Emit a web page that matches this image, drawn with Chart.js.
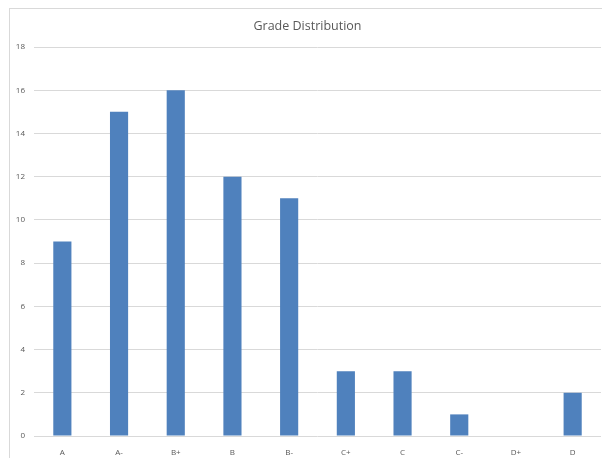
<!DOCTYPE html>
<html>
<head>
<meta charset="utf-8">
<script src="https://cdn.jsdelivr.net/npm/chart.js@4"></script>
<style>
    html, body { margin: 0; padding: 0; background: #fff; overflow: hidden; }
    #wrap { position: relative; width: 602px; height: 458px; }
    #frame { position: absolute; left: 9px; top: 8px; width: 640px; height: 500px; border: 1px solid #d9d9d9; box-sizing: border-box; }
    canvas { position: absolute; left: 0; top: 0; }
</style>
</head>
<body>
<div id="wrap">
    <div id="frame"></div>
    <canvas id="chart" width="602" height="458"></canvas>
</div>
<script>
const grades = ['A', 'A-', 'B+', 'B', 'B-', 'C+', 'C', 'C-', 'D+', 'D'];
const counts = [9, 15, 16, 12, 11, 3, 3, 1, 0, 2];
const yTicks = [0, 2, 4, 6, 8, 10, 12, 14, 16, 18];

const textColor = '#595959';
const gridColor = '#d9d9d9';
const fontFamily = "'Open Sans', 'Liberation Sans', sans-serif";

const ctx = document.getElementById('chart').getContext('2d');
new Chart(ctx, {
    type: 'bar',
    data: {
        labels: grades,
        datasets: [{
            label: 'Count',
            data: counts,
            backgroundColor: '#4f81bd',
            borderWidth: 0,
            categoryPercentage: 1,
            barPercentage: 0.32
        }]
    },
    options: {
        responsive: false,
        animation: false,
        layout: { padding: { top: 8, right: 1, bottom: 0, left: 14 } },
        plugins: {
            legend: { display: false },
            tooltip: { enabled: false },
            title: {
                display: true,
                text: 'Grade Distribution',
                color: textColor,
                font: { family: fontFamily, size: 12.5, weight: 'normal' },
                padding: { top: 11, bottom: 13 }
            }
        },
        scales: {
            x: {
                grid: { display: false },
                border: { display: false },
                ticks: {
                    color: textColor,
                    font: { family: fontFamily, size: 8 },
                    padding: 4,
                    maxRotation: 0
                },
                afterFit: (scale) => { scale.height = 22; }
            },
            y: {
                min: 0,
                max: 18,
                afterBuildTicks: (scale) => { scale.ticks = yTicks.map(v => ({ value: v })); },
                grid: { color: gridColor, lineWidth: 1, drawTicks: false },
                border: { display: false },
                ticks: {
                    color: textColor,
                    font: { family: fontFamily, size: 8 },
                    padding: 9
                },
                afterFit: (scale) => { scale.width = 20; }
            }
        }
    }
});
</script>
</body>
</html>
